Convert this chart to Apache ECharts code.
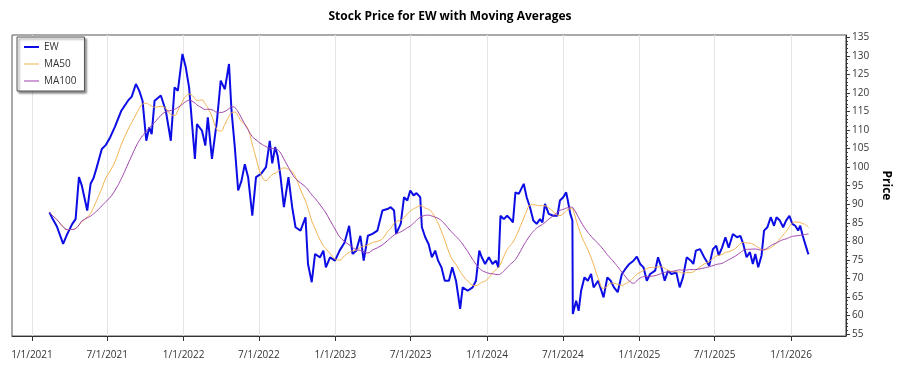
<!DOCTYPE html>
<html>
<head>
<meta charset="utf-8">
<title>EW Moving Averages</title>
<script src="https://cdn.jsdelivr.net/npm/echarts@6/dist/echarts.min.js"></script>
<style>
  html, body { margin: 0; padding: 0; background: #fff; }
  #chart { width: 900px; height: 375px; }
</style>
</head>
<body>
<div id="chart"></div>
<script>
// closing prices (irregular sampling)
const dates = [
  "2021-02-12","2021-02-20","2021-03-02","2021-03-17","2021-03-27","2021-04-08","2021-04-16","2021-04-24",
  "2021-05-01","2021-05-14","2021-05-22","2021-05-29","2021-06-06","2021-06-18","2021-06-28","2021-07-08",
  "2021-07-20","2021-08-04","2021-08-20","2021-08-29","2021-09-08","2021-09-16","2021-09-24","2021-10-03",
  "2021-10-10","2021-10-16","2021-10-23","2021-11-07","2021-11-19","2021-12-01","2021-12-10","2021-12-18",
  "2021-12-29","2022-01-06","2022-01-14","2022-01-28","2022-02-02","2022-02-14","2022-02-22","2022-02-28",
  "2022-03-10","2022-03-22","2022-03-31","2022-04-10","2022-04-20","2022-04-26","2022-05-04","2022-05-12",
  "2022-05-20","2022-05-28","2022-06-05","2022-06-15","2022-06-24","2022-07-06","2022-07-18","2022-07-27",
  "2022-08-02","2022-08-09","2022-08-15","2022-08-22","2022-08-30","2022-09-10","2022-09-19","2022-09-27",
  "2022-10-09","2022-10-21","2022-10-27","2022-11-05","2022-11-13","2022-11-25","2022-12-03","2022-12-09",
  "2022-12-19","2022-12-31","2023-01-11","2023-01-23","2023-02-03","2023-02-11","2023-02-20","2023-03-02",
  "2023-03-10","2023-03-20","2023-03-31","2023-04-12","2023-04-24","2023-05-06","2023-05-14","2023-05-22",
  "2023-05-27","2023-06-07","2023-06-15","2023-06-23","2023-06-30","2023-07-08","2023-07-15","2023-07-24",
  "2023-07-28","2023-08-05","2023-08-13","2023-08-21","2023-08-29","2023-09-05","2023-09-13","2023-09-21",
  "2023-10-01","2023-10-09","2023-10-18","2023-10-28","2023-11-03","2023-11-15","2023-11-27","2023-12-05",
  "2023-12-13","2023-12-19","2023-12-27","2024-01-05","2024-01-14","2024-01-22","2024-01-28","2024-02-02",
  "2024-02-10","2024-02-18","2024-02-26","2024-03-03","2024-03-09","2024-03-17","2024-03-29","2024-04-05",
  "2024-04-13","2024-04-21","2024-04-29","2024-05-07","2024-05-13","2024-05-19","2024-05-28","2024-06-08",
  "2024-06-18","2024-06-24","2024-07-02","2024-07-09","2024-07-13","2024-07-19","2024-07-24","2024-07-25",
  "2024-08-02","2024-08-08","2024-08-14","2024-08-22","2024-08-30","2024-09-07","2024-09-13","2024-09-24",
  "2024-10-07","2024-10-16","2024-10-24","2024-11-01","2024-11-10","2024-11-20","2024-11-28","2024-12-08",
  "2024-12-18","2024-12-26","2025-01-03","2025-01-11","2025-01-19","2025-01-27","2025-02-08","2025-02-15",
  "2025-02-23","2025-03-03","2025-03-11","2025-03-19","2025-03-31","2025-04-08","2025-04-16","2025-04-25",
  "2025-05-05","2025-05-11","2025-05-17","2025-05-27","2025-06-06","2025-06-18","2025-06-27","2025-07-05",
  "2025-07-11","2025-07-19","2025-07-27","2025-08-04","2025-08-14","2025-08-24","2025-09-01","2025-09-08",
  "2025-09-16","2025-09-24","2025-10-01","2025-10-07","2025-10-14","2025-10-22","2025-10-28","2025-11-05",
  "2025-11-13","2025-11-21","2025-11-27","2025-12-05","2025-12-13","2025-12-20","2025-12-28","2026-01-04",
  "2026-01-11","2026-01-18","2026-01-23","2026-01-29","2026-02-02","2026-02-10","2026-02-12"
];
const prices = [
  87.8, 86.0, 84.0, 79.3, 82.0, 84.7, 86.0, 97.3,
  95.0, 88.3, 95.5, 97.0, 100.0, 104.9, 106.0, 108.0,
  111.0, 115.2, 117.9, 119.0, 122.4, 120.6, 117.9, 107.1,
  110.7, 108.9, 117.9, 119.3, 115.2, 107.1, 121.5, 120.6,
  130.5, 126.9, 121.5, 102.2, 111.6, 109.8, 105.8, 113.4,
  102.2, 112.5, 123.3, 121.0, 127.8, 115.2, 105.3, 93.7,
  96.3, 100.8, 97.3, 86.9, 97.3, 98.2, 100.0, 107.1,
  101.0, 105.4, 103.0, 97.3, 89.2, 97.3, 89.2, 83.8,
  82.9, 86.5, 73.9, 69.0, 76.6, 75.7, 77.5, 73.0,
  75.7, 74.8, 77.5, 79.7, 84.2, 76.6, 77.5, 81.5,
  74.8, 81.5, 82.0, 82.9, 88.3, 88.7, 89.2, 88.3,
  82.0, 84.7, 91.9, 91.0, 93.7, 92.4, 93.0, 91.9,
  83.8, 81.1, 79.3, 75.7, 77.5, 74.8, 73.0, 69.4,
  69.4, 73.0, 69.4, 61.8, 67.6, 66.7, 67.6, 69.4,
  77.5, 75.7, 73.9, 75.7, 73.9, 74.8, 73.0, 86.9,
  86.0, 86.9, 86.0, 85.1, 93.2, 92.8, 95.5, 91.9,
  89.2, 85.6, 84.7, 86.0, 85.1, 90.1, 87.4, 86.9,
  86.9, 91.0, 91.9, 93.2, 91.0, 87.4, 85.6, 60.4,
  64.0, 61.3, 66.7, 70.3, 69.4, 71.2, 67.6, 69.4,
  64.9, 70.3, 69.4, 67.6, 66.3, 71.2, 72.5, 73.9,
  74.8, 75.9, 73.9, 73.0, 69.4, 71.2, 72.1, 75.7,
  73.0, 69.4, 72.1, 71.2, 71.6, 67.6, 70.3, 75.7,
  74.8, 73.9, 77.5, 77.9, 75.7, 73.4, 77.9, 78.8,
  76.2, 78.3, 81.1, 78.3, 82.0, 81.1, 81.5, 79.3,
  75.7, 77.1, 73.9, 76.6, 73.0, 76.2, 82.9, 83.8,
  86.5, 84.2, 86.5, 85.6, 83.8, 85.6, 86.9, 84.7,
  84.2, 82.9, 84.2, 81.5, 82.0, 77.1, 76.5
];
const xTickDates = ["2021-01-01","2021-07-01","2022-01-01","2022-07-01","2023-01-01","2023-07-01",
  "2024-01-01","2024-07-01","2025-01-01","2025-07-01","2026-01-01"];
const yTickLabels = [55,60,65,70,75,80,85,90,95,100,105,110,115,120,125,130,135];

function toTime(s) {
  const p = s.split("-");
  return new Date(+p[0], +p[1] - 1, +p[2]).getTime();
}

// time weighted moving average of the price line over the trailing window
function movingAvg(ts, vals, days) {
  const w = days * 86400000;
  return ts.map((t1, i) => {
    const t0 = Math.max(ts[0], t1 - w);
    if (t1 <= t0) return vals[i];
    let area = 0;
    for (let j = i; j > 0; j--) {
      const a = ts[j - 1], b = ts[j];
      if (b <= t0) break;
      const s = Math.max(a, t0);
      const va = vals[j - 1] + (vals[j] - vals[j - 1]) * (s - a) / (b - a);
      area += (va + vals[j]) / 2 * (b - s);
    }
    return +(area / (t1 - t0)).toFixed(2);
  });
}

const times = dates.map(toTime);
const ma50 = movingAvg(times, prices, 72);
const ma100 = movingAvg(times, prices, 145);
const tickTimes = xTickDates.map(toTime);
// every whole dollar between the labelled ticks
const minorTicks = [];
for (let v = yTickLabels[0]; v <= yTickLabels[yTickLabels.length - 1]; v++) minorTicks.push(v);

const yMin = 54.5, yMax = 135.6;
const blue = "#0c0ce4", orange = "#f2b04a", purple = "#9c3fa8";

var chart = echarts.init(document.getElementById("chart"));
chart.setOption({
  animation: false,
  textStyle: { fontFamily: "Open Sans" },
  title: {
    text: "Stock Price for EW with Moving Averages",
    left: "center",
    top: 6,
    textStyle: { fontSize: 12, fontWeight: "bold", color: "#000" }
  },
  legend: {
    data: [
      { name: "EW", icon: "path://M0,0H15V2H0Z" },
      { name: "MA50", icon: "path://M0,0H15V1H0Z" },
      { name: "MA100", icon: "path://M0,0H15V1H0Z" }
    ],
    orient: "vertical",
    left: 17,
    top: 37,
    padding: [5, 8, 5, 7],
    itemWidth: 15,
    itemHeight: 10,
    itemGap: 7,
    textStyle: { fontSize: 10, color: "#333" },
    backgroundColor: "#fff",
    borderColor: "#555",
    borderWidth: 1,
    shadowColor: "rgba(0,0,0,0.45)",
    shadowBlur: 2,
    shadowOffsetX: 2,
    shadowOffsetY: 2
  },
  grid: {
    left: 12,
    right: 41,
    top: 35,
    bottom: 39,
    show: true,
    borderColor: "#555",
    borderWidth: 1
  },
  xAxis: {
    type: "value",
    min: toTime("2020-11-14"),
    max: toTime("2026-05-13"),
    axisLine: { show: true, lineStyle: { color: "#333" } },
    axisTick: { show: true, length: 5, customValues: tickTimes, lineStyle: { color: "#333" } },
    axisLabel: {
      customValues: tickTimes,
      fontSize: 10,
      color: "#333",
      margin: 14,
      formatter: function (v) {
        const d = new Date(v);
        return (d.getMonth() + 1) + "/" + d.getDate() + "/" + d.getFullYear();
      }
    },
    splitLine: { show: true, lineStyle: { color: "#e4e4e4" } }
  },
  yAxis: [
    {
      type: "value",
      position: "right",
      min: yMin,
      max: yMax,
      name: "Price",
      nameLocation: "middle",
      nameRotate: -90,
      nameGap: 29,
      nameTextStyle: { fontSize: 12, fontWeight: "bold", color: "#000" },
      axisLine: { show: true, lineStyle: { color: "#333" } },
      axisTick: { show: true, length: 4, customValues: yTickLabels, lineStyle: { color: "#333" } },
      axisLabel: { customValues: yTickLabels, fontSize: 10, color: "#333", margin: 6 },
      splitLine: { show: false }
    },
    {
      type: "value",
      position: "right",
      min: yMin,
      max: yMax,
      axisLine: { show: false },
      axisTick: { show: true, length: 2, customValues: minorTicks, lineStyle: { color: "#333" } },
      axisLabel: { show: false },
      splitLine: { show: false }
    }
  ],
  series: [
    {
      name: "EW",
      type: "line",
      symbol: "none",
      z: 3,
      data: times.map((t, i) => [t, prices[i]]),
      lineStyle: { color: blue, width: 2 },
      itemStyle: { color: blue }
    },
    {
      name: "MA50",
      type: "line",
      symbol: "none",
      smooth: true,
      z: 4,
      data: times.map((t, i) => [t, ma50[i]]),
      lineStyle: { color: orange, width: 1 },
      itemStyle: { color: orange }
    },
    {
      name: "MA100",
      type: "line",
      symbol: "none",
      smooth: true,
      z: 5,
      data: times.map((t, i) => [t, ma100[i]]),
      lineStyle: { color: purple, width: 1 },
      itemStyle: { color: purple }
    }
  ]
});
</script>
</body>
</html>
